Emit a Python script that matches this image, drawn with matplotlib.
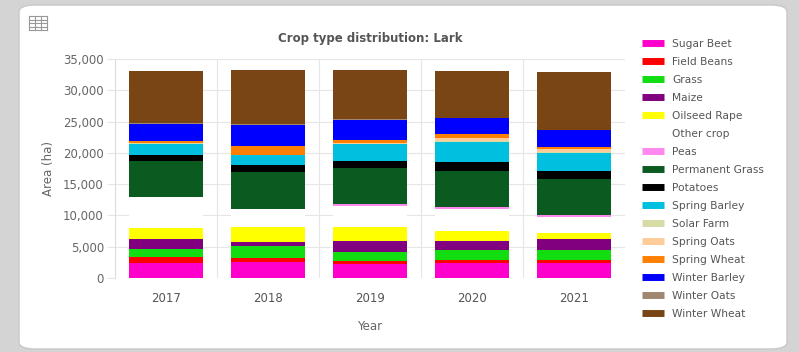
import numpy as np
import matplotlib.pyplot as plt
from matplotlib.patches import FancyBboxPatch
from matplotlib.lines import Line2D
from matplotlib.ticker import FuncFormatter

# Data (ha)
years = ['2017', '2018', '2019', '2020', '2021']
crops = ['Sugar Beet', 'Field Beans', 'Grass', 'Maize', 'Oilseed Rape', 'Other crop',
         'Peas', 'Permanent Grass', 'Potatoes', 'Spring Barley', 'Solar Farm',
         'Spring Oats', 'Spring Wheat', 'Winter Barley', 'Winter Oats', 'Winter Wheat']
colors = ['#ff00cc', '#ff0000', '#11dd11', '#800080', '#ffff00', '#ffffff',
          '#ff88ee', '#0b5a20', '#000000', '#00bfdf', '#d6dca4',
          '#ffcc99', '#ff8000', '#0000ff', '#a08870', '#7a4514']

sugar_beet = [2400, 2510, 2240, 2450, 2350]
field_beans = [900, 735, 480, 430, 530]
grass = [1390, 1920, 1490, 1600, 1600]
maize = [1600, 640, 1760, 1440, 1710]
oilseed_rape = [1710, 2400, 2140, 1650, 960]
other_crop = [4890, 2830, 3400, 3420, 2560]
peas = [60, 60, 270, 415, 370]
permanent_grass = [5750, 5800, 5750, 5700, 5750]
potatoes = [910, 1230, 1215, 1490, 1280]
spring_barley = [1870, 1490, 2670, 3200, 2920]
solar_farm = [30, 30, 30, 30, 30]
spring_oats = [60, 60, 120, 540, 540]
spring_wheat = [280, 1340, 560, 690, 320]
winter_barley = [2830, 3450, 3200, 2510, 2760]
winter_oats = [50, 50, 50, 50, 50]
winter_wheat = [8400, 8650, 7830, 7450, 9150]

series = [sugar_beet, field_beans, grass, maize, oilseed_rape, other_crop, peas,
          permanent_grass, potatoes, spring_barley, solar_farm, spring_oats,
          spring_wheat, winter_barley, winter_oats, winter_wheat]

fig = plt.figure(figsize=(7.99, 3.52), dpi=100)
fig.patch.set_facecolor('#d4d4d4')

# white card
card = FancyBboxPatch((19 / 799, 3 / 352), 768 / 799, 344 / 352,
                      boxstyle='round,pad=0,rounding_size=0.02',
                      transform=fig.transFigure, facecolor='white',
                      edgecolor='#c8c8c8', linewidth=1, zorder=-10)
fig.patches.append(card)

ax = fig.add_axes([115 / 799, 74 / 352, 510 / 799, 219 / 352])
ax.set_facecolor('none')

x = np.arange(len(years))
bottom = np.zeros(len(years))
for name, vals, col in zip(crops, series, colors):
    ax.bar(x, vals, bottom=bottom, width=0.73, color=col, label=name, zorder=3)
    bottom += np.array(vals)

ax.set_xlim(-0.5, len(years) - 0.5)
ax.set_ylim(0, 35000)
ax.set_yticks(np.arange(0, 35001, 5000))
ax.yaxis.set_major_formatter(FuncFormatter(lambda v, p: f'{int(v):,}'))
ax.set_xticks(x)
ax.set_xticklabels(years)

# grid lines: horizontal, and vertical between categories
ax.grid(axis='y', color='#e6e6e6', linewidth=0.8, zorder=0)
for b in np.arange(0.5, len(years) - 0.5, 1):
    ax.axvline(b, color='#e6e6e6', linewidth=0.8, zorder=0)

for s in ['top', 'right', 'bottom']:
    ax.spines[s].set_visible(False)
ax.spines['left'].set_color('#dddddd')
ax.tick_params(axis='y', length=6, color='#e6e6e6', labelsize=8.5, labelcolor='#666666', pad=2)
ax.tick_params(axis='x', length=0, labelsize=8.5, labelcolor='#555555', pad=10)

ax.set_ylabel('Area (ha)', fontsize=8.5, color='#666666', labelpad=6)
ax.set_xlabel('Year', fontsize=8.5, color='#666666', labelpad=11)
ax.set_title('Crop type distribution: Lark', fontsize=8.5, fontweight='bold',
             color='#555555', pad=12)

# legend
handles = []
for name, col in zip(crops, colors):
    handles.append(Line2D([0], [0], color=col, lw=5, solid_capstyle='butt'))
fig.legend(handles, crops, loc='upper left', bbox_to_anchor=(642 / 799, 313 / 352),
           frameon=False, fontsize=7.7, labelcolor='#555555', handlelength=2.1,
           handletextpad=0.7, labelspacing=0.745, borderaxespad=0, borderpad=0)

# small table icon top-left
ix, iy, iw, ih = 29 / 799, 322 / 352, 18 / 799, 14 / 352
for k in range(5):
    fig.add_artist(Line2D([ix, ix + iw], [iy + k * ih / 4] * 2, color='#999999', lw=0.8,
                          transform=fig.transFigure))
for k in range(4):
    fig.add_artist(Line2D([ix + k * iw / 3] * 2, [iy, iy + ih], color='#999999', lw=0.8,
                          transform=fig.transFigure))

plt.savefig('out.png', dpi=100, facecolor=fig.get_facecolor())
